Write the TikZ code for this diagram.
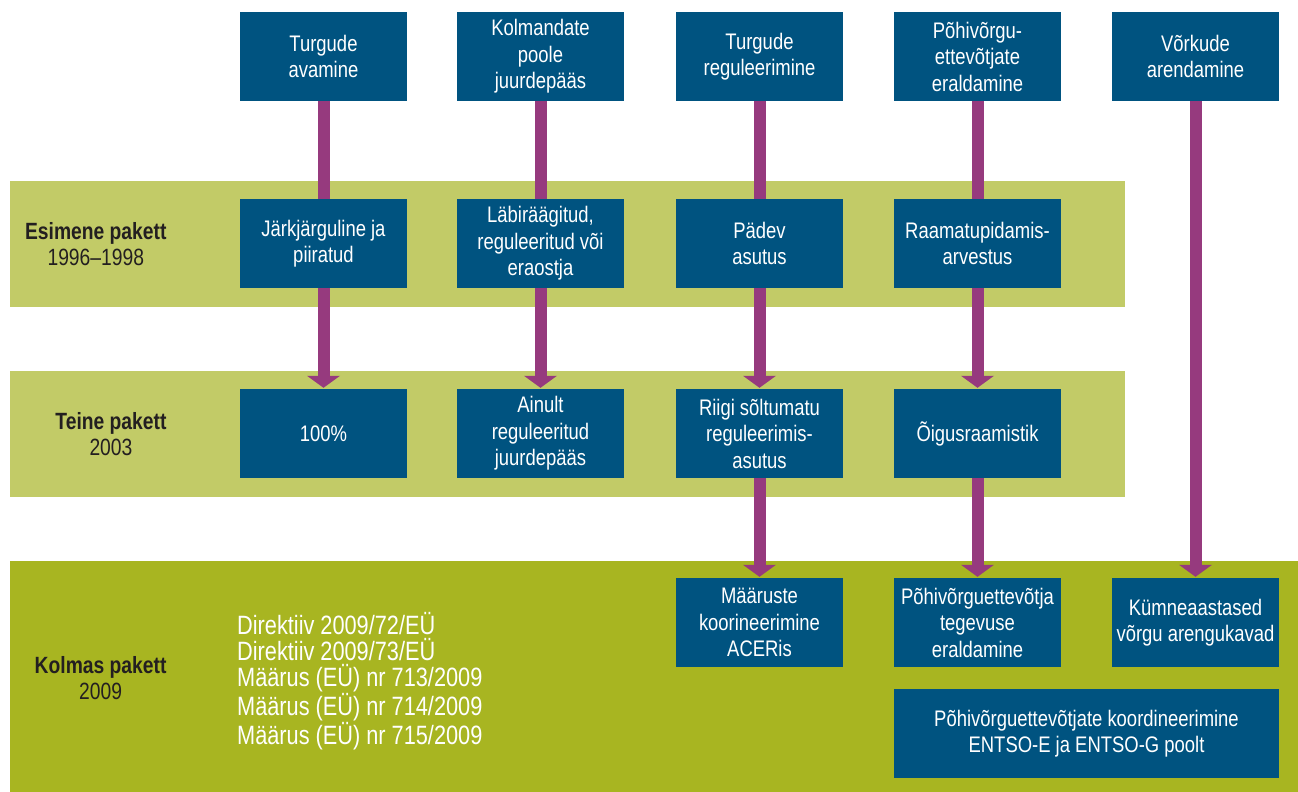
\documentclass[tikz,border=0pt]{standalone}
\usepackage{fontspec}
\setmainfont[FakeStretch=0.82]{Liberation Sans}
\usetikzlibrary{arrows.meta}
\definecolor{boxblue}{RGB}{0,83,128}
\definecolor{lightband}{RGB}{194,203,103}
\definecolor{darkband}{RGB}{168,181,33}
\definecolor{linkpurple}{RGB}{150,58,126}
\definecolor{labeltext}{RGB}{35,31,32}
\pgfdeclarelayer{bands}
\pgfdeclarelayer{links}
\pgfsetlayers{bands,links,main}
\begin{document}
\begin{tikzpicture}[x=1pt, y=-1pt,
    box/.style={fill=boxblue, text=white, minimum width=167pt, minimum height=89pt,
      inner sep=0pt, align=center, font=\fontsize{22.5}{26.5}\selectfont},
    pkg/.style={anchor=east, align=center, text=labeltext, font=\fontsize{23.5}{26}\selectfont},
    link/.style={draw=linkpurple, line width=12pt,
      -{Triangle[width=33pt, length=12pt, line width=0pt]}, shorten >=1pt}]
  \useasboundingbox (0,0) rectangle (1298,792);

  % top row
  \node[box] (t1) at (323.5,56.5) {Turgude\\avamine};
  \node[box] (t2) at (540.5,56.5) {Kolmandate\\poole\\juurdepääs};
  \node[box] (t3) at (759.5,56.5) {Turgude\\reguleerimine};
  \node[box] (t4) at (977.5,56.5) {Põhivõrgu-\\ettevõtjate\\eraldamine};
  \node[box] (t5) at (1195.5,56.5) {Võrkude\\arendamine};

  % esimene pakett
  \node[pkg] (esimene) at (170,244) {\textbf{Esimene pakett}\\1996–1998};
  \node[box] (e1) at (323.5,243.5) {Järkjärguline ja\\piiratud};
  \node[box] (e2) at (540.5,243.5) {Läbiräägitud,\\reguleeritud või\\eraostja};
  \node[box] (e3) at (759.5,243.5) {Pädev\\asutus};
  \node[box] (e4) at (977.5,243.5) {Raamatupidamis-\\arvestus};

  % teine pakett
  \node[pkg] (teine) at (170,434) {\textbf{Teine pakett}\\2003};
  \node[box] (s1) at (323.5,433.5) {100\%};
  \node[box] (s2) at (540.5,433.5) {Ainult\\reguleeritud\\juurdepääs};
  \node[box] (s3) at (759.5,433.5) {Riigi sõltumatu\\reguleerimis-\\asutus};
  \node[box] (s4) at (977.5,433.5) {Õigusraamistik};

  % kolmas pakett
  \node[pkg] (kolmas) at (170,678) {\textbf{Kolmas pakett}\\2009};
  \node[anchor=west, align=left, text=white, inner sep=0pt,
    font=\fontsize{26.5}{26.3}\selectfont] (oigusaktid) at (237,681)
    {Direktiiv 2009/72/EÜ\\Direktiiv 2009/73/EÜ\\Määrus (EÜ) nr 713/2009\\Määrus (EÜ) nr 714/2009\\Määrus (EÜ) nr 715/2009};
  \node[box] (k3) at (759.5,622.5) {Määruste\\koorineerimine\\ACERis};
  \node[box] (k4) at (977.5,622.5) {Põhivõrguettevõtja\\tegevuse\\eraldamine};
  \node[box] (k5) at (1195.5,622.5) {Kümneaastased\\võrgu arengukavad};
  \node[box, minimum width=385pt] (entso) at (1086.5,733.5)
    {Põhivõrguettevõtjate koordineerimine\\ENTSO-E ja ENTSO-G poolt};

  \begin{pgfonlayer}{links}
    \draw[link] (t1.south) -- (s1.north);
    \draw[link] (t2.south) -- (s2.north);
    \draw[link] (t3.south) -- (s3.north);
    \draw[link] (t4.south) -- (s4.north);
    \draw[link] (s3.south) -- (k3.north);
    \draw[link] (s4.south) -- (k4.north);
    \draw[link] (t5.south) -- (k5.north);
  \end{pgfonlayer}

  \begin{pgfonlayer}{bands}
    \fill[lightband] (10,181) rectangle (1125,307);
    \fill[lightband] (10,371) rectangle (1125,497);
    \fill[darkband] (10,561) rectangle (1298,792);
  \end{pgfonlayer}
\end{tikzpicture}
\end{document}
